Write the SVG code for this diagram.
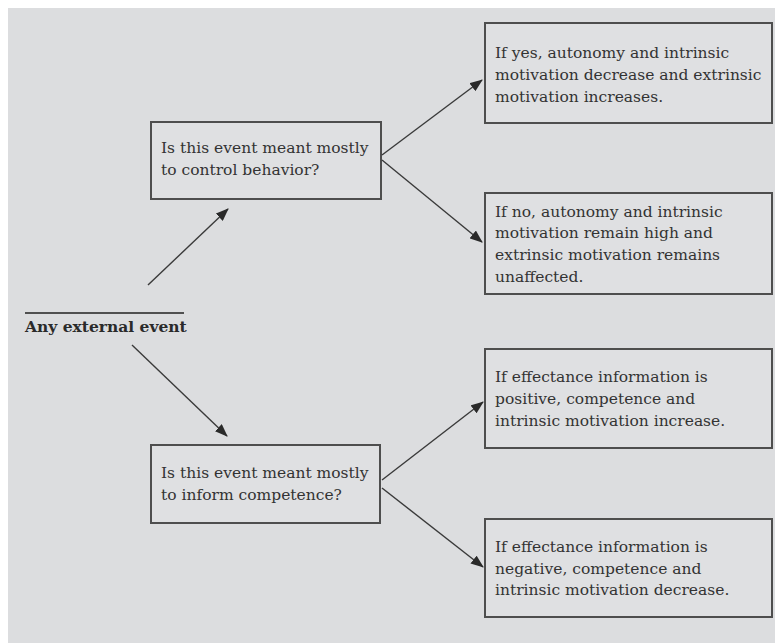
<svg xmlns="http://www.w3.org/2000/svg" width="775" height="643" viewBox="0 0 775 643">
<defs>
<marker id="ah" viewBox="0 0 13 10" refX="12" refY="5" markerWidth="13" markerHeight="10" markerUnits="userSpaceOnUse" orient="auto">
<path d="M0,0 L13,5 L0,10 Z" fill="#2a2a2a"/>
</marker>
</defs>
<style>
.box{fill:#dfe0e2;stroke:#4e4e4e;stroke-width:2}
.t{font-family:"DejaVu Serif","Liberation Serif",serif;font-size:15.5px;fill:#333333}
.b{font-family:"DejaVu Serif","Liberation Serif",serif;font-size:15.5px;font-weight:bold;fill:#2a2a2a}
.c{stroke:#3a3a3a;stroke-width:1.4;fill:none;marker-end:url(#ah)}
</style>
<rect x="0" y="0" width="775" height="643" fill="#ffffff"/>
<rect x="8" y="8" width="767" height="635" fill="#dcdddf"/>
<g id="start">
<line x1="25" y1="313" x2="184" y2="313" stroke="#505050" stroke-width="2"/>
<text class="b" x="25" y="332">Any external event</text>
</g>
<g id="q-control">
<rect class="box" x="151" y="122" width="230" height="77"/>
<text class="t" x="161" y="153">Is this event meant mostly</text>
<text class="t" x="161" y="175">to control behavior?</text>
</g>
<g id="q-inform">
<rect class="box" x="151" y="445" width="229" height="78"/>
<text class="t" x="161" y="478">Is this event meant mostly</text>
<text class="t" x="161" y="500">to inform competence?</text>
</g>
<g id="r-yes">
<rect class="box" x="485" y="23" width="287" height="100"/>
<text class="t" x="495" y="58">If yes, autonomy and intrinsic</text>
<text class="t" x="495" y="80">motivation decrease and extrinsic</text>
<text class="t" x="495" y="102">motivation increases.</text>
</g>
<g id="r-no">
<rect class="box" x="485" y="193" width="287" height="101"/>
<text class="t" x="495" y="217">If no, autonomy and intrinsic</text>
<text class="t" x="495" y="238">motivation remain high and</text>
<text class="t" x="495" y="260">extrinsic motivation remains</text>
<text class="t" x="495" y="282">unaffected.</text>
</g>
<g id="r-positive">
<rect class="box" x="485" y="349" width="287" height="99"/>
<text class="t" x="495" y="382">If effectance information is</text>
<text class="t" x="495" y="404">positive, competence and</text>
<text class="t" x="495" y="426">intrinsic motivation increase.</text>
</g>
<g id="r-negative">
<rect class="box" x="485" y="519" width="287" height="98"/>
<text class="t" x="495" y="552">If effectance information is</text>
<text class="t" x="495" y="574">negative, competence and</text>
<text class="t" x="495" y="595">intrinsic motivation decrease.</text>
</g>
<g id="connectors">
<line class="c" x1="148" y1="285" x2="228" y2="209"/>
<line class="c" x1="132" y1="345" x2="227" y2="436"/>
<line class="c" x1="382" y1="155" x2="482" y2="80"/>
<line class="c" x1="382" y1="160" x2="482" y2="242"/>
<line class="c" x1="382" y1="480" x2="483" y2="402"/>
<line class="c" x1="382" y1="488" x2="483" y2="567"/>
</g>
</svg>
